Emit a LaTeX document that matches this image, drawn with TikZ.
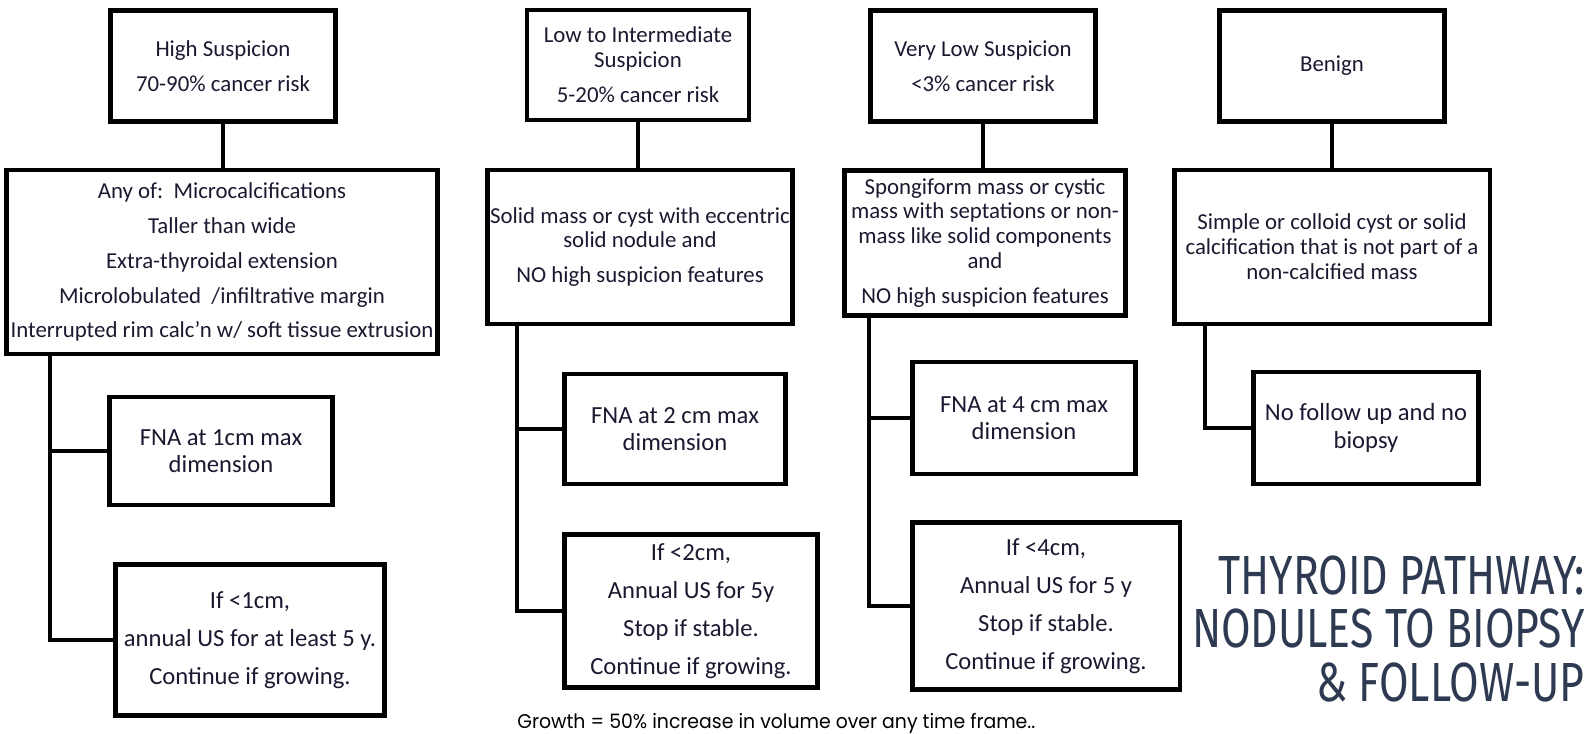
\documentclass[tikz,border=0pt]{standalone}
\usepackage{fontspec}
\setmainfont{Carlito}
\newfontfamily\titlefont[FakeStretch=0.775]{Fira Sans}
\newfontfamily\notefont[FakeStretch=0.95]{Poppins}
\usepackage{xcolor}
\usetikzlibrary{positioning}
\definecolor{boxtext}{RGB}{25,25,48}
\definecolor{titleblue}{RGB}{46,58,82}

\begin{document}
\begin{tikzpicture}[x=0.02cm,y=-0.02cm,
    box/.style={draw, line width=2.8pt, align=center, inner sep=1pt, text=boxtext,
      font=\fontsize{13}{14.2}\selectfont},
    lowbox/.style={box, font=\fontsize{14}{15.6}\selectfont},
    link/.style={line width=2.8pt}]
    \useasboundingbox (0,0) rectangle (1594,733);

    % high suspicion
    \node[box, minimum width=4.5cm, minimum height=2.22cm] (hs) at (223,66)
      {High Suspicion\\[0.2cm]70-90\% cancer risk};
    \node[box, minimum width=8.62cm, minimum height=3.68cm] (hsf) at (222,262)
      {Any of:\ \ Microcalcifications\\[0.2cm]Taller than wide\\[0.2cm]Extra-thyroidal extension\\[0.2cm]%
       Microlobulated\ \ /infiltrative margin\\[0.2cm]Interrupted rim calc’n w/ soft tissue extrusion};
    \node[lowbox, minimum width=4.46cm, minimum height=2.16cm] (fna1) at (221,451)
      {FNA at 1cm max\\dimension};
    \node[lowbox, minimum width=5.38cm, minimum height=3.02cm] (fu1) at (250,640)
      {If <1cm,\\[0.21cm]annual US for at least 5 y.\\[0.21cm]Continue if growing.};

    % low to intermediate
    \node[box, minimum width=4.44cm, minimum height=2.2cm] (li) at (638,65)
      {Low to Intermediate\\Suspicion\\[0.2cm]5-20\% cancer risk};
    \node[box, minimum width=6.1cm, minimum height=3.08cm] (lif) at (640,247)
      {Solid mass or cyst with eccentric\\solid nodule and\\[0.2cm]NO high suspicion features};
    \node[lowbox, minimum width=4.42cm, minimum height=2.2cm] (fna2) at (675,429)
      {FNA at 2 cm max\\dimension};
    \node[lowbox, minimum width=5.06cm, minimum height=3.06cm] (fu2) at (691,611)
      {If <2cm,\\[0.21cm]Annual US for 5y\\[0.21cm]Stop if stable.\\[0.21cm]Continue if growing.};

    % very low
    \node[box, minimum width=4.5cm, minimum height=2.22cm] (vl) at (983,66)
      {Very Low Suspicion\\[0.2cm]<3\% cancer risk};
    \node[box, minimum width=5.62cm, minimum height=2.9cm] (vlf) at (985,243)
      {Spongiform mass or cystic\\mass with septations or non-\\mass like solid components\\and\\[0.2cm]NO high suspicion features};
    \node[lowbox, minimum width=4.46cm, minimum height=2.24cm] (fna4) at (1024,418)
      {FNA at 4 cm max\\dimension};
    \node[lowbox, minimum width=5.36cm, minimum height=3.34cm] (fu4) at (1046,606)
      {If <4cm,\\[0.21cm]Annual US for 5 y\\[0.21cm]Stop if stable.\\[0.21cm]Continue if growing.};

    % benign
    \node[box, minimum width=4.5cm, minimum height=2.22cm] (bn) at (1332,66) {Benign};
    \node[box, minimum width=6.32cm, minimum height=3.08cm] (bnf) at (1332,247)
      {Simple or colloid cyst or solid\\calcification that is not part of a\\non-calcified mass};
    \node[lowbox, minimum width=4.5cm, minimum height=2.24cm] (nofu) at (1366,428)
      {No follow up and no\\biopsy};

    % connectors
    \foreach \a/\b in {hs/hsf, li/lif, vl/vlf, bn/bnf}
      \draw[link] (\a.south) -- (\a.south |- \b.north);
    \foreach \f/\x in {hsf/50, lif/517, vlf/869, bnf/1205}
      \coordinate (trunk-\f) at (\x,0);
    \foreach \f/\n/\u in {hsf/fna1/fu1, lif/fna2/fu2, vlf/fna4/fu4} {
      \draw[link] (\f.south -| trunk-\f) |- (\u.west);
      \draw[link] (\n.west) -- (\n.west -| trunk-\f);
    }
    \draw[link] (bnf.south -| trunk-bnf) |- (nofu.west);

    \node[anchor=north east, align=right, inner sep=0, text=titleblue,
      font=\titlefont\fontsize{31.4}{30.7}\selectfont] (title) at (1585,555)
      {THYROID PATHWAY:\\NODULES TO BIOPSY\\\&{} FOLLOW-UP};
    \node[anchor=base west, inner sep=0, font=\notefont\fontsize{11.3}{14}\selectfont] (note) at (517,728)
      {Growth = 50\% increase in volume over any time frame..};
  \end{tikzpicture}
\end{document}
